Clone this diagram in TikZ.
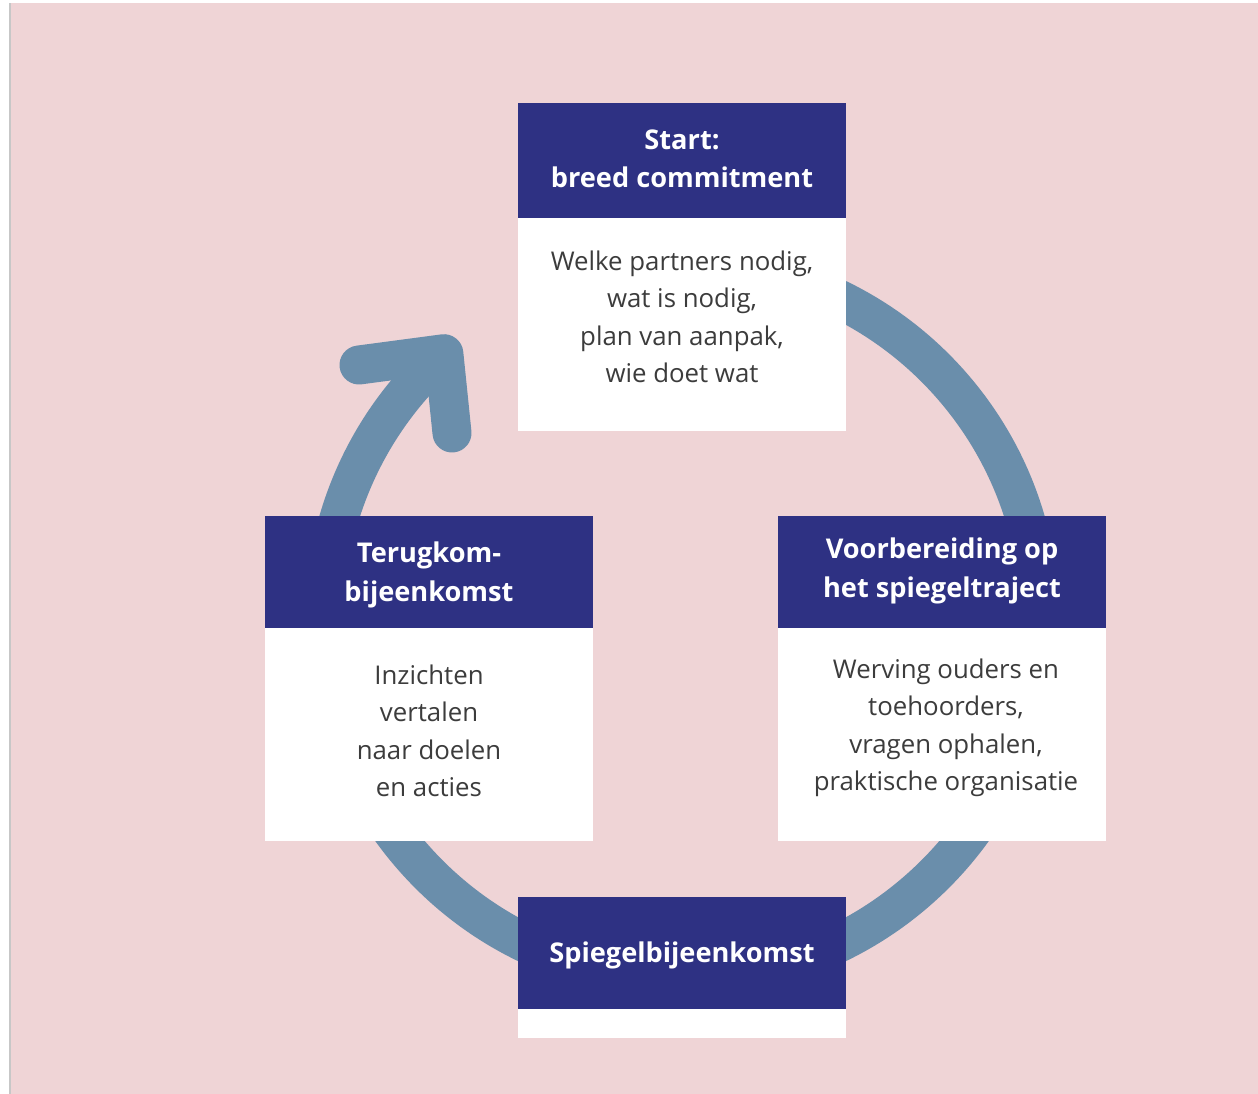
\documentclass[tikz,border=0pt]{standalone}
\usepackage{fontspec}
\setmainfont{Open Sans}
\definecolor{bgpink}{HTML}{EFD4D6}
\definecolor{navy}{HTML}{2E3183}
\definecolor{ringblue}{HTML}{6A8EAB}
\definecolor{bodytext}{HTML}{3C3C3C}
\tikzset{
  headbox/.style={fill=navy, draw=none, inner sep=0pt, minimum width=328pt, anchor=north west},
  bodybox/.style={fill=white, draw=none, inner sep=0pt, minimum width=328pt, anchor=north west},
  headtext/.style={text=white, align=center, inner sep=0pt, font=\bfseries\fontsize{27.2}{38.5}\selectfont},
  bodytxt/.style={text=bodytext, align=center, inner sep=0pt, font=\fontsize{25.8}{37.5}\selectfont},
  ringline/.style={draw=ringblue, line width=39pt},
}
\begin{document}
\begin{tikzpicture}[x=1pt,y=1pt]
\useasboundingbox (0,0) rectangle (1258,-1094);
\fill[white] (0,0) rectangle (1258,-1094);
\fill[black!22] (9,-3) rectangle (11,-1094);
\fill[bgpink] (11,-3) rectangle (1258,-1094);

% ring with arrow
\coordinate (c) at (682,-621);
\coordinate (tip) at ([shift={(131.7:358)}]c);
\coordinate (armL) at (359,-365);
\coordinate (armR) at (452,-433);
\draw[ringline] (tip) arc[start angle=131.7, end angle=460, radius=358];
\draw[ringline, line cap=round, line join=round] (armL) -- (tip) -- (armR);

% Start box
\node[bodybox, minimum height=213pt] (startbody) at (518,-218) {};
\node[headbox, minimum height=115pt] (starthead) at (518,-103) {};
\node[headtext] at (682,-159) {Start:\\breed commitment};
\node[bodytxt] at (682,-317) {Welke partners nodig,\\wat is nodig,\\plan van aanpak,\\wie doet wat};

% Voorbereiding box
\node[bodybox, minimum height=213pt] (voorbody) at (778,-628) {};
\node[headbox, minimum height=112pt] (voorhead) at (778,-516) {};
\node[headtext] at (942,-571) {Voorbereiding op\\het spiegeltraject};
\node[bodytxt] at (946,-728) {Werving ouders en\\toehoorders,\\vragen ophalen,\\praktische organisatie};

% Terugkom box
\node[bodybox, minimum height=213pt] (terugbody) at (265,-628) {};
\node[headbox, minimum height=112pt] (terughead) at (265,-516) {};
\node[headtext] at (429,-575) {Terugkom-\\bijeenkomst};
\node[bodytxt] at (429,-731) {Inzichten\\vertalen\\naar doelen\\en acties};

% Spiegel box
\node[bodybox, minimum height=29pt] (spiegelbody) at (518,-1009) {};
\node[headbox, minimum height=112pt] (spiegelhead) at (518,-897) {};
\node[headtext] at (682,-955) {Spiegelbijeenkomst};
\end{tikzpicture}
\end{document}
